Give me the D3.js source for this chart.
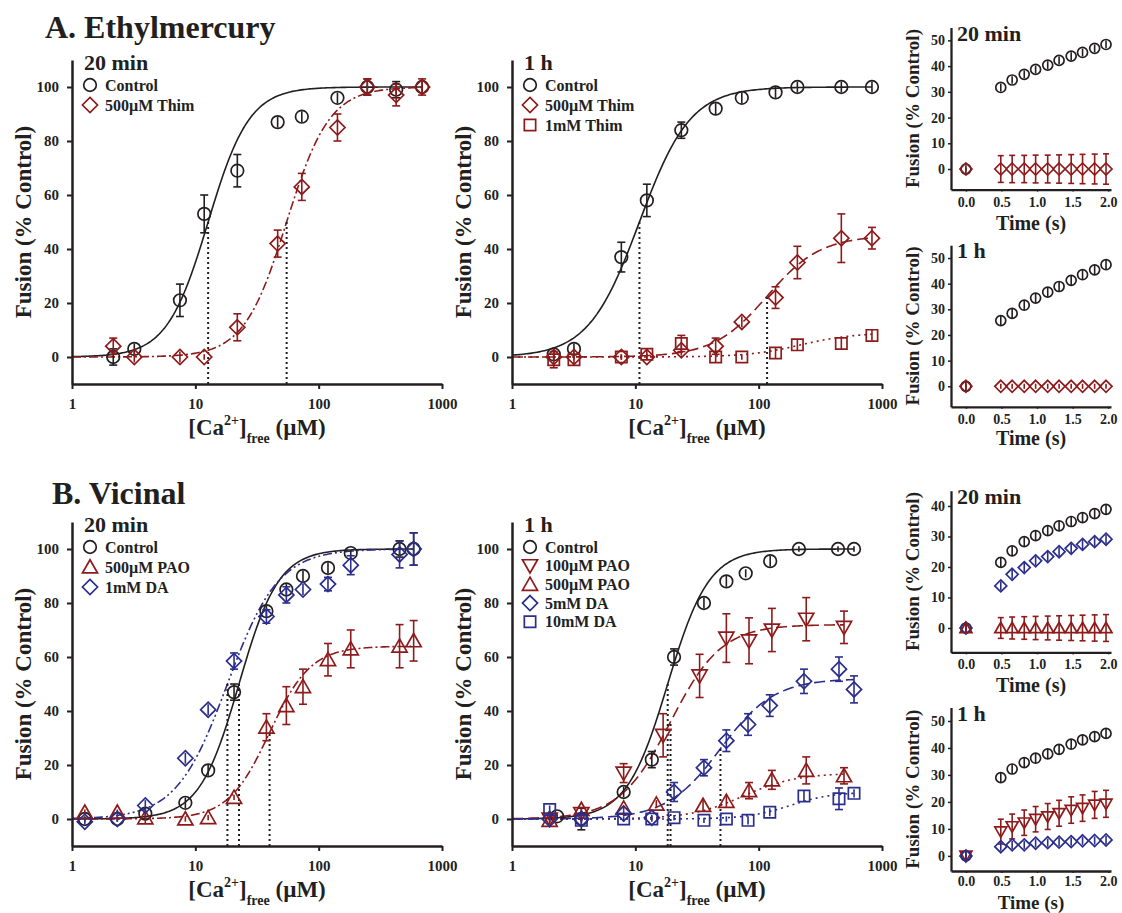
<!DOCTYPE html>
<html>
<head>
<meta charset="utf-8">
<title>Fusion vs Ca</title>
<script src="https://cdn.jsdelivr.net/npm/d3@7"></script>
<style>
    body { margin: 0; background: #fff; }
    text { font-family: 'Liberation Serif', 'Times New Roman', serif; font-weight: bold; fill: #231f20; }
</style>
</head>
<body>
<script>
var red = '#8e1b1b', blue = '#2b2e8c', black = '#231f20'

// ---------- A. Ethylmercury, 20 min ----------
var a20Ca       = [2.16, 3.2, 7.5, 11.8, 21.9, 46.5, 73, 142, 248, 425, 690]
var a20Ctl      = [0, 3, 21, 53, 69, 87, 89, 96, 100, 99, 100]
var a20CtlErr   = [3, 2, 6, 7, 6, 2, 2, 2, 3, 3, 2]
var a20Thim     = [4, 0, 0, 0, 11, 42, 63, 85, 100, 97, 100]
var a20ThimErr  = [3, 2, 2, 1, 5, 5, 5, 5, 3, 4, 3]
var a20CtlFit   = [100, 12.7, 2.6]   // top, EC50, hill n
var a20ThimFit  = [100, 55, 2.5]

// ---------- A. Ethylmercury, 1 h ----------
var a1Ca        = [2.18, 3.18, 7.7, 12.4, 23.6, 44.8, 73, 137, 206, 468, 829]
var a1Ctl       = [1, 3, 37, 58, 84, 92, 96, 98, 100, 100, 100]
var a1CtlErr    = [2, 2, 5.5, 6, 3, 2, 2, 2, 2, 2, 2]
var a1Thim5     = [0, 0, 0, 0, 2.5, 4, 13, 22, 35, 44, 44]
var a1Thim5Err  = [2, 1, 1, 1, 2, 3, 2, 4, 6, 9, 4]
var a1Thim10    = [-1, -1, 0, 1, 5, 0, 0, 1.5, 4.5, 5, 8]
var a1Thim10Err = [3, 2, 1, 2, 3, 2, 1, 2, 2, 2, 2]
var a1CtlFit    = [100, 10.8, 2.1]
var a1Thim5Fit  = [45, 117, 2]
var a1Thim10Fit = [9, 220, 2]

// ---------- B. Vicinal, 20 min ----------
var b20Ca       = [1.27, 2.33, 3.93, 8.3, 12.7, 20.6, 37.7, 54.7, 74.6, 119, 182, 453, 589]
var b20Ctl      = [0, 0, 2, 6, 18, 47, 77, 85, 90, 93, 98.5, 100, 100]
var b20CtlErr   = [1, 1, 2, 2, 2, 3, 2, 2, 2, 2, 1, 3, 6]
var b20Pao      = [2.5, 2.5, 0.4, 0, 0.5, 8, 34, 42, 49, 59, 63, 64, 66]
var b20PaoErr   = [1, 1, 2, 1, 1, 1, 5, 7, 6.5, 6, 7, 8, 7.5]
var b20Da       = [-1, 0, 5, 22.5, 40.5, 58.5, 75, 83, 85, 87, 94, 98, 100]
var b20DaErr    = [1, 1, 2, 2, 2, 3, 2.5, 3, 2, 2.5, 3.5, 5, 6]
var b20CtlFit   = [100, 22.6, 2.7]
var b20PaoFit   = [64, 40, 2.6]
var b20DaFit    = [100, 18.2, 2.1]

// ---------- B. Vicinal, 1 h ----------
var b1CtlCa     = [2.32, 3.65, 8.04, 13.6, 20.6, 36, 54.7, 78.5, 124, 212, 440, 593]
var b1Ctl       = [1, 0, 10, 22, 60, 80, 88, 91, 95.5, 100, 100, 100]
var b1CtlErr    = [1, 4, 2, 3, 3, 2, 2, 1.5, 2, 1, 1, 1]
var b1PaoCa     = [2.02, 3.65, 8.04, 16.8, 33.2, 54.7, 83.5, 128, 243, 492]
var b1Pao1      = [0, 2, 17, 31, 53, 67, 66, 70, 74, 71]
var b1Pao1Err   = [2, 1, 3.5, 8, 8, 9, 8.5, 8, 8, 6]
var b1Pao5Ca    = [2.02, 3.65, 8.04, 14.8, 35.4, 54.7, 83.5, 128, 243, 492]
var b1Pao5      = [-0.5, 3.5, 4, 5.5, 5, 6.5, 10.5, 14.5, 18, 16]
var b1Pao5Err   = [1, 1, 1, 1.5, 2, 2, 3, 3.5, 5, 3]
var b1DaCa      = [2.02, 3.65, 8.04, 13.6, 20.6, 36, 54.7, 82, 123, 233, 448, 593]
var b1Da5       = [0, 0, 2, 0.5, 10, 19, 29, 35, 42, 51, 55.5, 48]
var b1Da5Err    = [1, 1, 1, 1, 3.5, 3, 4, 4, 4, 4.5, 4.5, 5]
var b1Da10      = [3.5, -0.5, 0, 0, 0.5, -0.5, 0, -0.5, 2.5, 8.5, 7.5, 9.5]
var b1Da10Err   = [1.5, 2, 1, 1, 1, 1, 1, 1.5, 1.5, 2, 4, 1.5]
var b1CtlFit    = [100, 18.3, 2.6]
var b1Pao1Fit   = [72, 19.3, 2.1]
var b1Pao5Fit   = [17, 75, 2]
var b1Da5Fit    = [52, 49, 2]
var b1Da10Fit   = [10, 180, 2.5]

// ---------- time courses ----------
var tSec        = [0, 0.49, 0.65, 0.82, 0.98, 1.15, 1.31, 1.48, 1.64, 1.81, 1.97]
var ta20Ctl     = [0, 31.7, 34.6, 36.8, 38.7, 40.4, 42.2, 43.9, 45.3, 46.9, 48.4]
var ta20Thim    = [0, 0, 0, 0, 0, 0, 0, 0, 0, 0, 0]
var ta20ThimErr = [0.5, 5.2, 5.3, 5.3, 5.4, 5.4, 5.5, 5.6, 5.7, 5.8, 5.9]
var ta1Ctl      = [0, 25.6, 28.4, 31.6, 34.4, 36.7, 38.9, 41.3, 43.5, 45.4, 47.4]
var ta1Thim     = [0, 0, 0, 0, 0, 0, 0, 0, 0, 0, 0]
var tb20Ctl     = [0, 21.5, 25.3, 28.3, 30.3, 31.9, 33.5, 34.9, 36.2, 37.5, 38.9]
var tb20Da      = [0, 13.8, 17.6, 19.8, 22.0, 23.4, 25.0, 26.1, 27.4, 28.3, 29.1]
var tb20Pao     = [0, 0, 0, 0, 0, 0, 0, 0, 0, 0, 0]
var tb20PaoErr  = [1, 3.4, 3.6, 3.7, 3.8, 3.9, 4.0, 4.1, 4.2, 4.3, 4.4]
var tb1Ctl      = [0, 29, 32.2, 34.6, 36.2, 37.8, 39.5, 41.4, 43, 44.2, 45.4]
var tb1Pao      = [0, 9.0, 10.9, 12.3, 13.6, 14.6, 15.8, 17.0, 17.7, 18.9, 19.3]
var tb1PaoErr   = [1, 4.6, 4.6, 4.7, 4.7, 4.8, 4.8, 4.9, 4.9, 5, 5]
var tb1Da       = [0, 3.4, 4.1, 4.1, 4.7, 4.9, 5.1, 5.3, 5.6, 5.7, 5.9]

// same error on every time point
function fill(v) { return tSec.map(function() { return v }) }

var svg = d3.select('body').append('svg').attr('width', 1122).attr('height', 913)
svg.append('rect').attr('width', 1122).attr('height', 913).attr('fill', '#fff')

svg.append('text').attr('x', 45).attr('y', 38).attr('font-size', 32).text('A. Ethylmercury')
svg.append('text').attr('x', 52).attr('y', 504).attr('font-size', 32).text('B. Vicinal')

function hill(p, c) {
    return p[0] * Math.pow(c, p[2]) / (Math.pow(p[1], p[2]) + Math.pow(c, p[2]))
}

function markPath(type, r) {
    if(type == 'circle') {
        return 'M' + (-r) + ',0a' + r + ',' + r + ' 0 1,0 ' + (2 * r) + ',0a' + r + ',' + r + ' 0 1,0 ' + (-2 * r) + ',0Z'
    }
    if(type == 'diamond') {
        var d = r * 1.2
        return 'M0,' + (-d) + 'L' + d + ',0L0,' + d + 'L' + (-d) + ',0Z'
    }
    if(type == 'square') {
        var s = r * 0.9
        return 'M' + (-s) + ',' + (-s) + 'h' + (2 * s) + 'v' + (2 * s) + 'h' + (-2 * s) + 'Z'
    }
    var w = r * 1.2, h = r * 1.05
    if(type == 'up') {
        return 'M0,' + (-h * 1.1) + 'L' + w + ',' + (h * 0.9) + 'L' + (-w) + ',' + (h * 0.9) + 'Z'
    }
    return 'M0,' + (h * 1.1) + 'L' + w + ',' + (-h * 0.9) + 'L' + (-w) + ',' + (-h * 0.9) + 'Z'
}

var dashes = {
    solid: null,
    dashdot: '9,3,2,3',
    dashed: '11,5',
    dotted: '2,4',
    dashdotdot: '9,3,2,3,2,3'
}

function drawPoints(g, s, x, y, r, cap) {
    var pts = s.x.map(function(d, i) { return {x: d, y: s.y[i], e: s.err[i]} })
    var bars = g.append('g').attr('stroke', s.color).attr('stroke-width', 1.6).attr('fill', 'none')
    pts.forEach(function(p) {
        var cx = x(p.x)
        bars.append('line').attr('x1', cx).attr('x2', cx).attr('y1', y(p.y - p.e)).attr('y2', y(p.y + p.e))
        if(p.e * Math.abs(y(0) - y(1)) > r) {
            bars.append('line').attr('x1', cx - cap).attr('x2', cx + cap).attr('y1', y(p.y + p.e)).attr('y2', y(p.y + p.e))
            bars.append('line').attr('x1', cx - cap).attr('x2', cx + cap).attr('y1', y(p.y - p.e)).attr('y2', y(p.y - p.e))
        }
    })
    g.append('g').selectAll('path')
        .data(pts)
        .enter()
        .append('path')
        .attr('d', markPath(s.sym, r))
        .attr('transform', function(p) { return 'translate(' + x(p.x) + ',' + y(p.y) + ')' })
        .attr('fill', 'none')
        .attr('stroke', s.color)
        .attr('stroke-width', 1.7)
}

function logPanel(opt) {
    var g = svg.append('g')
    var x = d3.scaleLog().domain([1, 1000]).range([opt.left, opt.left + 370])
    var y = d3.scaleLinear().domain([-10, 110]).range([opt.bottom, opt.bottom - 324])

    // fitted curves
    opt.series.forEach(function(s) {
        var hi = Math.log10(d3.max(s.x))
        var cs = d3.range(0, 201).map(function(i) { return Math.pow(10, hi * i / 200) })
        var line = d3.line().x(function(c) { return x(c) }).y(function(c) { return y(hill(s.fit, c)) })
        g.append('path').datum(cs).attr('d', line)
            .attr('fill', 'none').attr('stroke', s.color).attr('stroke-width', 1.6)
            .attr('stroke-dasharray', dashes[s.dash])
    })

    // EC50 drop lines
    opt.series.filter(function(s) { return !s.noDrop }).forEach(function(s) {
        g.append('line')
            .attr('x1', x(s.fit[1])).attr('x2', x(s.fit[1]))
            .attr('y1', y(-10)).attr('y2', y(hill(s.fit, s.fit[1])))
            .attr('stroke', black).attr('stroke-width', 2).attr('stroke-dasharray', '2,3')
    })

    opt.series.forEach(function(s) { drawPoints(g, s, x, y, 6.3, 4) })

    var xAxis = g.append('g').attr('transform', 'translate(0,' + opt.bottom + ')')
        .call(d3.axisBottom(x).tickValues([1, 10, 100, 1000]).tickFormat(d3.format('d'))
            .tickSize(5).tickSizeOuter(0).tickPadding(9))
    var yAxis = g.append('g').attr('transform', 'translate(' + opt.left + ',0)')
        .call(d3.axisLeft(y).tickValues([0, 20, 40, 60, 80, 100])
            .tickSize(5).tickSizeOuter(0).tickPadding(8))
    ;[xAxis, yAxis].forEach(function(a) {
        a.attr('font-family', null)
        a.select('.domain').attr('stroke', black).attr('stroke-width', 2.5)
        a.selectAll('.tick line').attr('stroke', black).attr('stroke-width', 2)
        a.selectAll('.tick text').attr('font-size', 15).attr('fill', black)
    })

    var xl = g.append('text').attr('x', opt.left + 185).attr('y', opt.bottom + 51)
        .attr('text-anchor', 'middle').attr('font-size', 23)
    xl.append('tspan').text('[Ca')
    xl.append('tspan').text('2+').attr('font-size', 14).attr('dy', -10)
    xl.append('tspan').text(']').attr('dy', 10)
    xl.append('tspan').text('free').attr('font-size', 14).attr('dy', 8)
    xl.append('tspan').text(' (\u00b5M)').attr('dy', -8)

    g.append('text').attr('transform', 'translate(' + (opt.left - 41) + ',' + (opt.bottom - 162) + ') rotate(-90)')
        .attr('text-anchor', 'middle').attr('font-size', 23).text('Fusion (% Control)')

    g.append('text').attr('x', opt.left + 12).attr('y', opt.bottom - 314)
        .attr('font-size', 22).text(opt.title)

    opt.series.forEach(function(s, i) {
        var ly = opt.bottom - 299 + i * opt.gap
        g.append('path').attr('d', markPath(s.sym, 6.3))
            .attr('transform', 'translate(' + (opt.left + 18) + ',' + ly + ')')
            .attr('fill', 'none').attr('stroke', s.color).attr('stroke-width', 1.7)
        g.append('text').attr('x', opt.left + 33).attr('y', ly + 5.5)
            .attr('font-size', 16).text(s.name)
    })
}

function timePanel(opt) {
    var g = svg.append('g')
    var x = d3.scaleLinear().domain([-0.21, 2.04]).range([951, 1111])
    var y = d3.scaleLinear().domain(opt.domain).range([opt.bottom, opt.top])

    opt.series.forEach(function(s) { drawPoints(g, s, x, y, 5, 3) })

    var xAxis = g.append('g').attr('transform', 'translate(0,' + opt.bottom + ')')
        .call(d3.axisBottom(x).tickValues([0, 0.5, 1, 1.5, 2]).tickFormat(d3.format('.1f'))
            .tickSize(2).tickSizeOuter(0).tickPadding(opt.pad))
    var yAxis = g.append('g').attr('transform', 'translate(951,0)')
        .call(d3.axisLeft(y).tickValues(opt.ticks).tickSize(3).tickSizeOuter(0).tickPadding(3))
    ;[xAxis, yAxis].forEach(function(a) {
        a.attr('font-family', null)
        a.select('.domain').attr('stroke', black).attr('stroke-width', 2.3)
        a.selectAll('.tick line').attr('stroke', black).attr('stroke-width', 1.5)
        a.selectAll('.tick text').attr('font-size', 14).attr('fill', black)
    })

    g.append('text').attr('x', 1031).attr('y', opt.bottom + opt.labelGap)
        .attr('text-anchor', 'middle').attr('font-size', opt.labelSize).text('Time (s)')
    g.append('text').attr('transform', 'translate(919,' + ((opt.top + opt.bottom) / 2) + ') rotate(-90)')
        .attr('text-anchor', 'middle').attr('font-size', 19).text('Fusion (% Control)')
    g.append('text').attr('x', 957).attr('y', opt.top + 13)
        .attr('font-size', 22).text(opt.title)
}

logPanel({left: 72, bottom: 384, title: '20 min', gap: 20, series: [
    {name: 'Control', x: a20Ca, y: a20Ctl, err: a20CtlErr, fit: a20CtlFit, sym: 'circle', color: black, dash: 'solid'},
    {name: '500\u00b5M Thim', x: a20Ca, y: a20Thim, err: a20ThimErr, fit: a20ThimFit, sym: 'diamond', color: red, dash: 'dashdot'}
]})

logPanel({left: 512, bottom: 384, title: '1 h', gap: 20, series: [
    {name: 'Control', x: a1Ca, y: a1Ctl, err: a1CtlErr, fit: a1CtlFit, sym: 'circle', color: black, dash: 'solid'},
    {name: '500\u00b5M Thim', x: a1Ca, y: a1Thim5, err: a1Thim5Err, fit: a1Thim5Fit, sym: 'diamond', color: red, dash: 'dashed'},
    {name: '1mM Thim', x: a1Ca, y: a1Thim10, err: a1Thim10Err, fit: a1Thim10Fit, sym: 'square', color: red, dash: 'dotted', noDrop: true}
]})

logPanel({left: 72, bottom: 846, title: '20 min', gap: 20, series: [
    {name: 'Control', x: b20Ca, y: b20Ctl, err: b20CtlErr, fit: b20CtlFit, sym: 'circle', color: black, dash: 'solid'},
    {name: '500\u00b5M PAO', x: b20Ca, y: b20Pao, err: b20PaoErr, fit: b20PaoFit, sym: 'up', color: red, dash: 'dashdot'},
    {name: '1mM DA', x: b20Ca, y: b20Da, err: b20DaErr, fit: b20DaFit, sym: 'diamond', color: blue, dash: 'dashdotdot'}
]})

logPanel({left: 512, bottom: 846, title: '1 h', gap: 18.7, series: [
    {name: 'Control', x: b1CtlCa, y: b1Ctl, err: b1CtlErr, fit: b1CtlFit, sym: 'circle', color: black, dash: 'solid'},
    {name: '100\u00b5M PAO', x: b1PaoCa, y: b1Pao1, err: b1Pao1Err, fit: b1Pao1Fit, sym: 'down', color: red, dash: 'dashed'},
    {name: '500\u00b5M PAO', x: b1Pao5Ca, y: b1Pao5, err: b1Pao5Err, fit: b1Pao5Fit, sym: 'up', color: red, dash: 'dotted', noDrop: true},
    {name: '5mM DA', x: b1DaCa, y: b1Da5, err: b1Da5Err, fit: b1Da5Fit, sym: 'diamond', color: blue, dash: 'dashed'},
    {name: '10mM DA', x: b1DaCa, y: b1Da10, err: b1Da10Err, fit: b1Da10Fit, sym: 'square', color: blue, dash: 'dotted', noDrop: true}
]})

timePanel({top: 27.5, bottom: 189.6, domain: [-8, 55], ticks: [0, 10, 20, 30, 40, 50], title: '20 min',
    pad: 5, labelGap: 40, labelSize: 20, series: [
    {x: tSec, y: ta20Ctl, err: fill(1.5), sym: 'circle', color: black},
    {x: tSec, y: ta20Thim, err: ta20ThimErr, sym: 'diamond', color: red}
]})
timePanel({top: 245.2, bottom: 406.8, domain: [-8, 55], ticks: [0, 10, 20, 30, 40, 50], title: '1 h',
    pad: 5, labelGap: 38, labelSize: 20, series: [
    {x: tSec, y: ta1Ctl, err: fill(1.8), sym: 'circle', color: black},
    {x: tSec, y: ta1Thim, err: fill(1), sym: 'diamond', color: red}
]})
timePanel({top: 490.7, bottom: 652.4, domain: [-8, 45], ticks: [0, 10, 20, 30, 40], title: '20 min',
    pad: 5, labelGap: 40, labelSize: 20, series: [
    {x: tSec, y: tb20Ctl, err: fill(1.5), sym: 'circle', color: black},
    {x: tSec, y: tb20Da, err: fill(1.5), sym: 'diamond', color: blue},
    {x: tSec, y: tb20Pao, err: tb20PaoErr, sym: 'up', color: red}
]})
timePanel({top: 707.5, bottom: 871, domain: [-5.6, 55], ticks: [0, 10, 20, 30, 40, 50], title: '1 h',
    pad: 3, labelGap: 38, labelSize: 19, series: [
    {x: tSec, y: tb1Ctl, err: fill(1.8), sym: 'circle', color: black},
    {x: tSec, y: tb1Pao, err: tb1PaoErr, sym: 'down', color: red},
    {x: tSec, y: tb1Da, err: fill(1.5), sym: 'diamond', color: blue}
]})
</script>
</body>
</html>
